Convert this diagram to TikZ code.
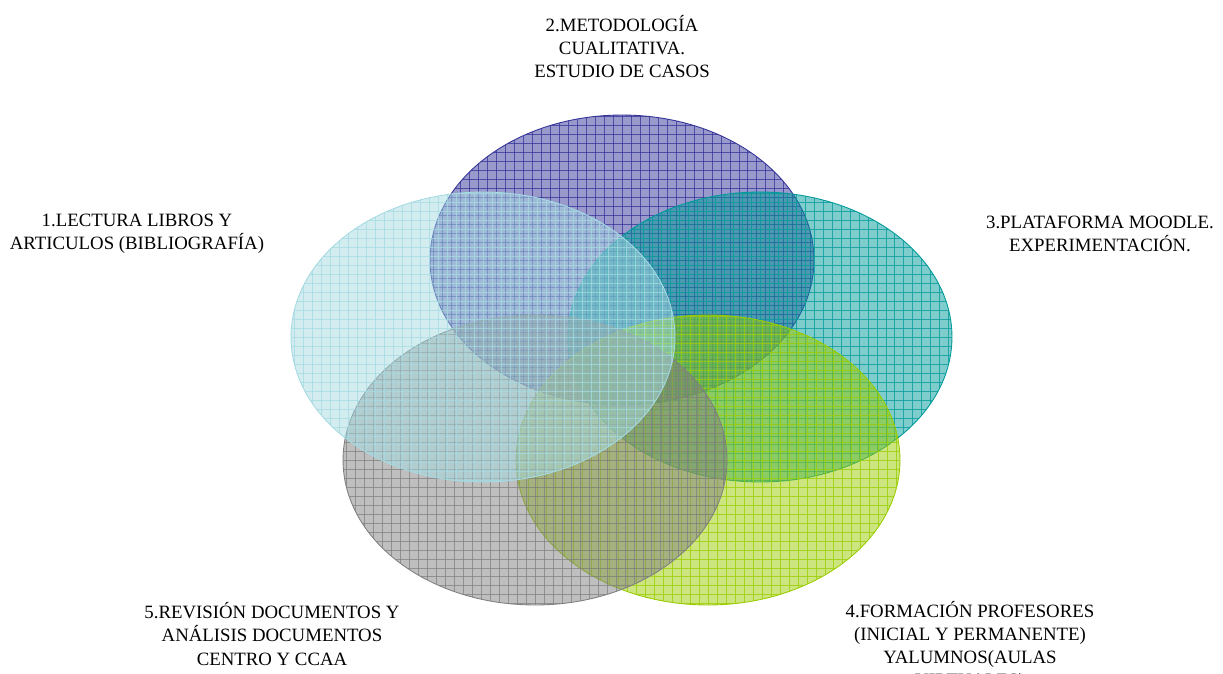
\documentclass[tikz,border=0pt]{standalone}
\usepackage{fontspec}
\setmainfont{Liberation Serif}
\usetikzlibrary{shapes.geometric}
\definecolor{cA}{RGB}{165,218,226}
\definecolor{cB}{RGB}{51,51,153}
\definecolor{cC}{RGB}{0,153,153}
\definecolor{cD}{RGB}{153,204,0}
\definecolor{cE}{RGB}{128,128,128}
\tikzset{
  venn/.style={ellipse, inner sep=0pt, minimum width=7.68cm, minimum height=5.8cm,
    draw=#1, line width=0.5pt, fill=#1, fill opacity=0.5,
    path picture={
      \foreach \k in {-22,...,22}{
        \draw[#1, line width=0.55pt, draw opacity=0.75]
          ([xshift=\k*0.18cm]path picture bounding box.north) --
          ([xshift=\k*0.18cm]path picture bounding box.south);
      }
      \foreach \k in {-17,...,17}{
        \draw[#1, line width=0.55pt, draw opacity=0.75]
          ([yshift=\k*0.18cm]path picture bounding box.west) --
          ([yshift=\k*0.18cm]path picture bounding box.east);
      }
    }},
  lab/.style={align=center, inner sep=0pt, text opacity=1,
    font=\fontsize{10.7}{13.1}\selectfont}
}
\begin{document}
\begin{tikzpicture}[x=0.02cm, y=-0.02cm]
\useasboundingbox (0,0) rectangle (1223,673);
\clip (0,0) rectangle (1223,673);
\node[venn=cB] (e2) at (622,260) {};
\node[venn=cC] (e3) at (760,337) {};
\node[venn=cD] (e4) at (708,460) {};
\node[venn=cE] (e5) at (535,460) {};
\node[venn=cA] (e1) at (483,337) {};
\node[lab] (t2) at (622,47) {2.METODOLOGÍA\\CUALITATIVA.\\ESTUDIO DE CASOS};
\node[lab] (t1) at (137,234) {1.LECTURA LIBROS Y\\ARTICULOS (BIBLIOGRAFÍA)};
\node[lab] (t3) at (1100,234) {3.PLATAFORMA MOODLE.\\EXPERIMENTACIÓN.};
\node[lab] (t5) at (272,634) {5.REVISIÓN DOCUMENTOS Y\\ANÁLISIS DOCUMENTOS\\CENTRO Y CCAA};
\node[lab] (t4) at (970,646) {4.FORMACIÓN PROFESORES\\(INICIAL Y PERMANENTE)\\YALUMNOS(AULAS\\VIRTUALES)};
\end{tikzpicture}
\end{document}
